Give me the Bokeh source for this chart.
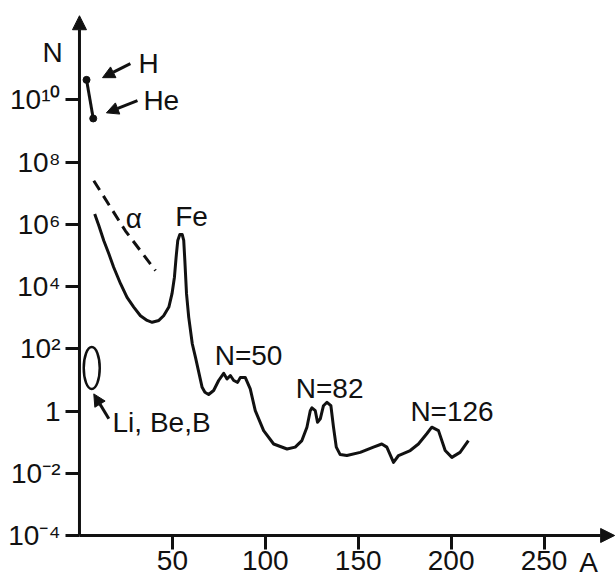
from bokeh.plotting import figure
from bokeh.models import Range1d, FixedTicker, Arrow, NormalHead
from bokeh.core.properties import value
from bokeh.embed import file_html
from bokeh.resources import INLINE

# ---- data ----
mass_number = [8.2, 10.4, 13.1, 15.8, 18.4, 22.1, 25.6, 29.2, 32.8, 36.4, 39.1, 42.7, 45.3, 48.1,
               49.8, 51.1, 52.0, 52.9, 54.0, 55.3, 56.1, 56.7, 57.6, 58.8, 60.7, 62.4, 66.0, 67.5,
               69.5, 72.2, 74.9, 77.6, 79.4, 81.2, 83.0, 85.1, 86.6, 89.2, 91.9, 94.6, 99.1, 104.5,
               111.7, 116.1, 119.7, 122.4, 124.2, 125.1, 126.9, 128.1, 129.6, 131.3, 133.2, 135.3,
               136.7, 138.2, 140.3, 143.9, 151.1, 158.2, 162.7, 165.4, 169.0, 171.7, 178.0, 182.4,
               186.9, 189.6, 193.2, 196.8, 200.4, 204.8, 209.3]
log10_abundance = [6.33, 5.96, 5.47, 5.05, 4.62, 4.09, 3.65, 3.34, 3.06, 2.91, 2.85, 2.91, 3.06, 3.34,
                   3.77, 4.30, 4.94, 5.48, 5.67, 5.67, 5.48, 4.84, 3.77, 3.01, 2.16, 1.73, 0.76, 0.60,
                   0.53, 0.66, 0.98, 1.21, 1.03, 1.14, 0.98, 0.92, 1.08, 1.08, 0.71, 0.01, -0.63, -1.06,
                   -1.22, -1.16, -0.95, -0.52, 0.01, 0.10, 0.01, -0.36, -0.25, 0.17, 0.28, 0.17,
                   -0.52, -1.16, -1.40, -1.43, -1.33, -1.16, -1.06, -1.16, -1.65, -1.43, -1.27, -1.06,
                   -0.73, -0.52, -0.63, -1.27, -1.49, -1.33, -0.95]

alpha_mass = [7.7, 24.7, 40.9]
alpha_log10 = [7.40, 5.79, 4.51]

h_he_mass = [3.8, 7.4]
h_he_log10 = [10.64, 9.40]

x_ticks = [50, 100, 150, 200, 250]
y_tick_values = [1e-4, 1e-2, 1, 1e2, 1e4, 1e6, 1e8, 1e10]
y_tick_labels = ["10\u207b\u2074", "10\u207b\u00b2", "1", "10\u00b2", "10\u2074", "10\u2076",
                 "10\u2078", "10\u00b9\u2070"]

FONT = "Liberation Sans"
INK = "#111111"

p = figure(width=616, height=579,
           x_range=Range1d(-42.5, 289), y_range=Range1d(10 ** -5.414, 10 ** 13.19),
           y_axis_type="log", output_backend="svg", toolbar_location=None,
           min_border_left=0, min_border_right=0, min_border_top=0, min_border_bottom=0)
p.xgrid.visible = False
p.ygrid.visible = False
p.outline_line_color = None
p.background_fill_color = "white"
p.border_fill_color = "white"

for ax in (p.xaxis[0], p.yaxis[0]):
    ax.axis_line_color = None
    ax.major_tick_in = 0
    ax.major_tick_out = 14
    ax.major_tick_line_width = 3
    ax.major_tick_line_color = INK
    ax.minor_tick_line_color = None
    ax.major_label_text_font = FONT
    ax.major_label_text_font_size = "28px"
    ax.major_label_text_color = INK

p.xaxis.ticker = FixedTicker(ticks=x_ticks)
p.xaxis.major_label_standoff = 2
p.xaxis.fixed_location = 1e-4
p.yaxis.ticker = FixedTicker(ticks=y_tick_values)
p.yaxis.major_label_overrides = dict(zip(y_tick_values, y_tick_labels))
p.yaxis.major_label_standoff = 5
p.yaxis.fixed_location = 0

# axis arrows
p.add_layout(Arrow(end=NormalHead(size=14, fill_color=INK, line_color=INK),
                   x_start=0, y_start=1e-4, x_end=0, y_end=10 ** 12.7,
                   line_width=3, line_color=INK))
p.add_layout(Arrow(end=NormalHead(size=14, fill_color=INK, line_color=INK),
                   x_start=0, y_start=1e-4, x_end=288, y_end=1e-4,
                   line_width=3, line_color=INK))

# curves
abund = [10 ** v for v in log10_abundance]
p.line(mass_number, abund, line_width=3, line_color=INK, line_join="round")
p.line(alpha_mass, [10 ** v for v in alpha_log10], line_width=3, line_color=INK, line_dash="11 7")
hh = [10 ** v for v in h_he_log10]
p.line(h_he_mass, hh, line_width=3, line_color=INK)
p.scatter(h_he_mass, hh, size=7, color=INK)

# Li, Be, B ellipse
p.ellipse(x=[6.6], y=[10 ** 1.38], width=16, height=42, width_units="screen", height_units="screen",
          fill_color=None, line_color=INK, line_width=2.5)

# annotation arrows
for xs, ys, xe, ye in [(27.4, 11.16, 12.4, 10.71), (31.2, 9.97, 14.5, 9.58), (15.8, -0.25, 7.7, 0.55)]:
    p.add_layout(Arrow(end=NormalHead(size=12, fill_color=INK, line_color=INK),
                       x_start=xs, y_start=10 ** ys, x_end=xe, y_end=10 ** ye,
                       line_width=3, line_color=INK))

# texts
center_labels = ["\u03b1", "Fe", "N=50", "N=82", "N=126", "N", "A"]
center_x = [29.3, 60.3, 91.0, 134.6, 200.5, -14.5, 274]
center_y = [10 ** 6.19, 10 ** 6.25, 10 ** 1.78, 10 ** 0.72, 10 ** -0.02, 10 ** 11.52, 10 ** -4.87]
p.text(center_x, center_y, text=center_labels, text_font=value(FONT), text_font_size="28px",
       text_align="center", text_baseline="middle", text_color=INK)

left_labels = ["H", "He", "Li, Be,B"]
left_x = [31.8, 34.4, 17.8]
left_y = [10 ** 11.17, 10 ** 9.98, 10 ** -0.37]
p.text(left_x, left_y, text=left_labels, text_font=value(FONT), text_font_size="28px",
       text_align="left", text_baseline="middle", text_color=INK)

open("out.html", "w").write(file_html(p, INLINE))
